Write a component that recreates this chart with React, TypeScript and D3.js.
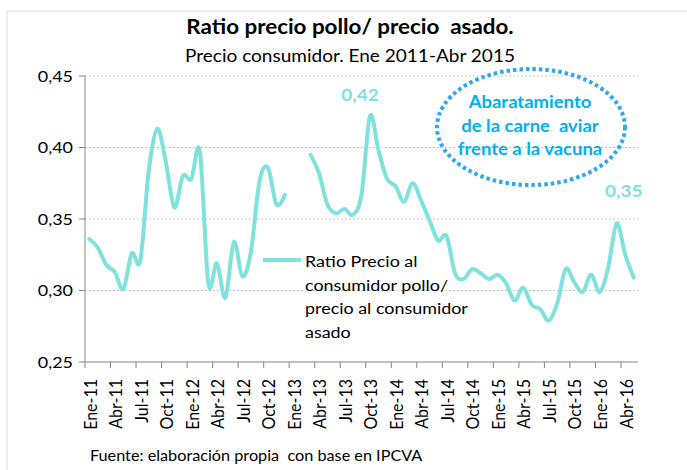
import React from "react";
import * as d3 from "d3";

// ratio pollo / asado, one value per month, Ene-11 .. May-16 (null = no data)
const ratio: (number | null)[] = [
  0.336, 0.33, 0.318, 0.313, 0.301, 0.326, 0.321, 0.384, 0.413, 0.39, 0.358, 0.38,
  0.378, 0.397, 0.305, 0.319, 0.295, 0.334, 0.31, 0.327, 0.376, 0.386, 0.36, 0.367,
  null, null, 0.395, 0.382, 0.36, 0.354, 0.357, 0.353, 0.367, 0.422, 0.398, 0.378,
  0.373, 0.362, 0.375, 0.363, 0.349, 0.335, 0.338, 0.312, 0.308, 0.315, 0.312, 0.308,
  0.311, 0.305, 0.293, 0.302, 0.29, 0.287, 0.279, 0.291, 0.315, 0.306, 0.299, 0.311,
  0.299, 0.316, 0.347, 0.325, 0.309,
];
const monthNames = ["Ene", "Feb", "Mar", "Abr", "May", "Jun", "Jul", "Ago", "Sep", "Oct", "Nov", "Dic"];
const years = ["11", "12", "13", "14", "15", "16"];
const tickLabels = [
  "Ene-11", "Abr-11", "Jul-11", "Oct-11", "Ene-12", "Abr-12", "Jul-12", "Oct-12",
  "Ene-13", "Abr-13", "Jul-13", "Oct-13", "Ene-14", "Abr-14", "Jul-14", "Oct-14",
  "Ene-15", "Abr-15", "Jul-15", "Oct-15", "Ene-16", "Abr-16",
];
const yTicks = [0.25, 0.3, 0.35, 0.4, 0.45];
const legendLines = ["Ratio Precio al", "consumidor pollo/", "precio al consumidor", "asado"];
const noteLines = ["Abaratamiento", "de la carne  aviar", "frente a la vacuna"];
const peakLabels = [
  { month: "Oct-13", text: "0,42", dx: -10, dy: -15 },
  { month: "Mar-16", text: "0,35", dx: 7, dy: -26 },
];

const months = years.flatMap((y) => monthNames.map((m) => `${m}-${y}`)).slice(0, ratio.length);

const W = 687;
const H = 470;
const SX = 1.12; // text in the picture is stretched sideways
const FONT = "Lato, 'Open Sans', sans-serif";
const LINE = "#80e2dd";
const BLUE = "#00b0f0";

const App = () => {
  const svgRef = React.useRef<SVGSVGElement>(null);
  const margin = { top: 76, right: 49, bottom: 108, left: 85 };

  React.useEffect(() => {
    drawChart();
  }, []);

  const drawChart = () => {
    const svg = d3.select(svgRef.current).attr("viewBox", [0, 0, W, H]);
    svg.selectAll("*").remove();

    const x = d3
      .scaleBand()
      .domain(months)
      .range([margin.left, W - margin.right])
      .padding(0);
    const y = d3.scaleLinear().domain([0.25, 0.45]).range([H - margin.bottom, margin.top]);
    const cx = (m: string) => (x(m) as number) + x.bandwidth() / 2;

    const text = (g: any, tx: number, ty: number, s: string, size: number, opts: any = {}) =>
      g
        .append("text")
        .attr("transform", `translate(${tx},${ty}) scale(${SX},1)${opts.rotate ? " rotate(-90)" : ""}`)
        .attr("font-family", FONT)
        .attr("font-size", size)
        .attr("font-weight", opts.bold ? "bold" : "normal")
        .attr("fill", opts.fill || "#000")
        .attr("text-anchor", opts.anchor || "start")
        .attr("dy", opts.dy || 0)
        .style("white-space", "pre")
        .text(s);

    // chart frame
    svg.append("path").attr("d", `M7,${H}V11H${W}`).attr("fill", "none").attr("stroke", "#d9d9d9");

    // titles
    text(svg, 350, 34, "Ratio precio pollo/ precio  asado.", 20, { bold: true, anchor: "middle" });
    text(svg, 350, 62, "Precio consumidor. Ene 2011-Abr 2015", 17, { anchor: "middle" });

    // grid
    svg
      .append("g")
      .selectAll("line")
      .data(yTicks.slice(1))
      .join("line")
      .attr("x1", margin.left)
      .attr("x2", W - margin.right)
      .attr("y1", (d) => y(d))
      .attr("y2", (d) => y(d))
      .attr("stroke", "#c6c6c6")
      .attr("stroke-dasharray", "2,2");

    // y axis
    const yAxis = svg.append("g");
    yAxis
      .append("line")
      .attr("x1", margin.left)
      .attr("x2", margin.left)
      .attr("y1", y(0.45))
      .attr("y2", y(0.25))
      .attr("stroke", "#868686");
    yTicks.forEach((t) => {
      yAxis
        .append("line")
        .attr("x1", margin.left - 6)
        .attr("x2", margin.left)
        .attr("y1", y(t))
        .attr("y2", y(t))
        .attr("stroke", "#868686");
      text(yAxis, margin.left - 12, y(t), d3.format(".2f")(t).replace(".", ","), 16, {
        anchor: "end",
        dy: "0.35em",
      });
    });

    // x axis
    const xAxis = svg.append("g");
    const base = y(0.25);
    xAxis
      .append("line")
      .attr("x1", margin.left)
      .attr("x2", W - margin.right)
      .attr("y1", base)
      .attr("y2", base)
      .attr("stroke", "#868686");
    tickLabels.forEach((m) => {
      const x0 = x(m) as number;
      xAxis
        .append("line")
        .attr("x1", x0)
        .attr("x2", x0)
        .attr("y1", base)
        .attr("y2", base + 6)
        .attr("stroke", "#868686");
      text(xAxis, cx(m) + 1, base + 17, m, 16, { rotate: true, anchor: "end", dy: "0.35em" });
    });

    // series
    const line = d3
      .line<number | null>()
      .defined((d) => d !== null)
      .x((d, i) => cx(months[i]))
      .y((d) => y(d as number))
      .curve(d3.curveCardinal.tension(0));
    svg
      .append("path")
      .datum(ratio)
      .attr("d", line)
      .attr("fill", "none")
      .attr("stroke", LINE)
      .attr("stroke-width", 4)
      .attr("stroke-linecap", "round")
      .attr("stroke-linejoin", "round");

    // peak labels
    peakLabels.forEach((p) => {
      const v = ratio[months.indexOf(p.month)] as number;
      text(svg, cx(p.month) + p.dx, y(v) + p.dy, p.text, 17, {
        bold: true,
        anchor: "middle",
        fill: LINE,
      });
    });

    // legend
    svg
      .append("line")
      .attr("x1", 263)
      .attr("x2", 301)
      .attr("y1", 260)
      .attr("y2", 260)
      .attr("stroke", LINE)
      .attr("stroke-width", 4);
    legendLines.forEach((s, i) => text(svg, 305, 267 + i * 23.7, s, 16));

    // note
    svg
      .append("ellipse")
      .attr("cx", 531)
      .attr("cy", 127)
      .attr("rx", 94)
      .attr("ry", 58)
      .attr("fill", "none")
      .attr("stroke", "#2fa8ee")
      .attr("stroke-width", 4)
      .attr("stroke-dasharray", "3.5,3");
    noteLines.forEach((s, i) =>
      text(svg, 530, 108 + i * 23.5, s, 16.5, { bold: true, anchor: "middle", fill: BLUE })
    );

    // source
    text(svg, 90, 461, "Fuente: elaboración propia  con base en IPCVA", 14.5);
  };

  return (
    <svg
      ref={svgRef}
      width={W}
      height={H}
      style={{ position: "absolute", left: 0, top: 0, background: "#fff" }}
    />
  );
};

export default App;
